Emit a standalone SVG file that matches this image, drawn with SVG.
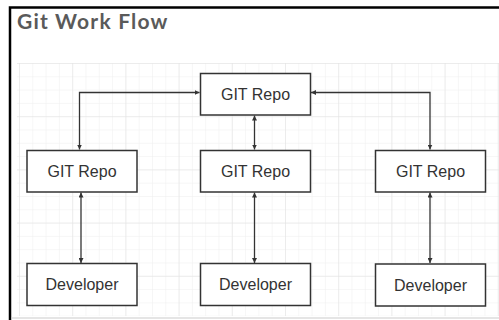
<svg xmlns="http://www.w3.org/2000/svg" width="499" height="320" viewBox="0 0 499 320">
  <defs>
    <pattern id="minor" x="19" y="63" width="13.3" height="13.3" patternUnits="userSpaceOnUse">
      <path d="M0 0V13.3M0 0H13.3" fill="none" stroke="#eeeeee" stroke-width="1"/>
    </pattern>
    <pattern id="major" x="19" y="63" width="53.2" height="53.2" patternUnits="userSpaceOnUse">
      <path d="M0 0V53.2M0 0H53.2" fill="none" stroke="#e2e2e2" stroke-width="1"/>
    </pattern>
    <marker id="arr" viewBox="0 0 6 6" refX="6" refY="3" markerWidth="5" markerHeight="5" markerUnits="userSpaceOnUse" orient="auto-start-reverse">
      <path d="M0 0L6 3L0 6Z" fill="#333"/>
    </marker>
  </defs>
  <style>
    .box{fill:#fff;stroke:#333;stroke-width:1.5}
    .lbl{font-family:"Liberation Sans",Arial,sans-serif;font-size:16px;fill:#333;text-anchor:middle}
    .con{fill:none;stroke:#333;stroke-width:1.3;marker-start:url(#arr);marker-end:url(#arr)}
  </style>
  <rect width="499" height="320" fill="#fff"/>
  <rect x="17" y="63" width="482" height="253" fill="url(#minor)"/>
  <rect x="17" y="63" width="482" height="253" fill="url(#major)"/>
  <path d="M10 320V7.5H499" fill="none" stroke="#000" stroke-width="2.5"/>
  <path d="M11 318H499" fill="none" stroke="#ccc" stroke-width="1.2"/>
  <text x="17" y="29" font-family="Lato,'Open Sans',sans-serif" font-weight="bold" font-size="21" letter-spacing="1.2" fill="#5a5a5a">Git Work Flow</text>

  <g id="connectors">
    <path class="con" d="M79.5 149.5V92.5H199.5"/>
    <path class="con" d="M311 92.5H430V149.5"/>
    <path class="con" d="M254.5 115.5V149.5"/>
    <path class="con" d="M81 192.5V263"/>
    <path class="con" d="M254.5 192.5V263"/>
    <path class="con" d="M430 192.5V263"/>
  </g>

  <g id="repo-top"><rect class="box" x="200.5" y="73.5" width="110" height="41.5"/><text class="lbl" x="255.5" y="99.5">GIT Repo</text></g>
  <g id="repo-left"><rect class="box" x="27" y="150.5" width="110" height="41.5"/><text class="lbl" x="82" y="176.5">GIT Repo</text></g>
  <g id="repo-mid"><rect class="box" x="200.5" y="150.5" width="110" height="41.5"/><text class="lbl" x="255.5" y="176.5">GIT Repo</text></g>
  <g id="repo-right"><rect class="box" x="375.5" y="150.5" width="110" height="41.5"/><text class="lbl" x="430.5" y="176.5">GIT Repo</text></g>
  <g id="dev-left"><rect class="box" x="27" y="263.5" width="110" height="42"/><text class="lbl" x="82" y="290">Developer</text></g>
  <g id="dev-mid"><rect class="box" x="200.5" y="263.5" width="110" height="42"/><text class="lbl" x="255.5" y="290">Developer</text></g>
  <g id="dev-right"><rect class="box" x="375.5" y="264" width="110" height="42"/><text class="lbl" x="430.5" y="290.5">Developer</text></g>
</svg>
